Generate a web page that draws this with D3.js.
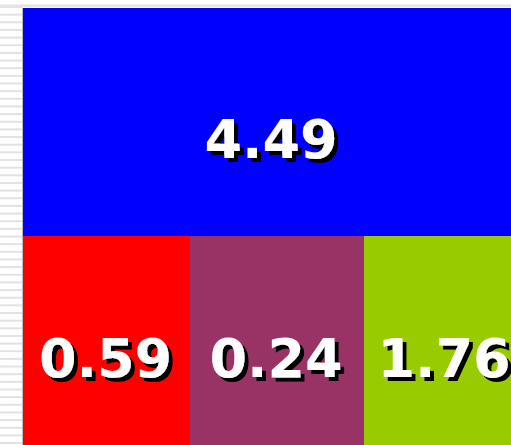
<!DOCTYPE html>
<html>
<head>
<meta charset="utf-8">
<script src="https://cdn.jsdelivr.net/npm/d3@7/dist/d3.min.js"></script>
<style>
html,body{margin:0;padding:0;background:#fff;overflow:hidden;}
svg{display:block;}
</style>
</head>
<body>
<script>
// Data
const groups = ["top", "bottom"];
const names = ["A", "B", "C", "D"];
const labels = ["4.49", "0.59", "0.24", "1.76"];
const groupOf = ["top", "bottom", "bottom", "bottom"];
const sizes = [114.7, 35.0, 36.4, 34.0];   // relative tile areas
const colors = ["#0000ff", "#ff0000", "#993366", "#99cc00"];

const W = 511, H = 445;
const svg = d3.select("body").append("svg").attr("width", W).attr("height", H);

const defs = svg.append("defs");
const f = defs.append("filter").attr("id", "shadow")
  .attr("x", "-10%").attr("y", "-10%").attr("width", "130%").attr("height", "140%");
f.append("feOffset").attr("in", "SourceAlpha").attr("dx", 3.5).attr("dy", 3.5).attr("result", "off");
f.append("feFlood").attr("flood-color", "#000").attr("result", "blk");
f.append("feComposite").attr("in", "blk").attr("in2", "off").attr("operator", "in").attr("result", "sh");
const m = f.append("feMerge");
m.append("feMergeNode").attr("in", "sh");
m.append("feMergeNode").attr("in", "SourceGraphic");

// background stripes on the left & top line
const stripeY = d3.range(6, H, 7.65);
svg.append("g").selectAll("rect").data(stripeY).join("rect")
  .attr("x", 0).attr("y", d => d).attr("width", 23).attr("height", 2)
  .attr("fill", "#e2e2e2");
svg.append("rect").attr("x", 0).attr("y", 4.5).attr("width", W).attr("height", 2.5).attr("fill", "#e4e4e4");
svg.append("rect").attr("x", 22).attr("y", 8).attr("width", 1).attr("height", H).attr("fill", "#bbbbbb");

// hierarchy
const tree = {
  name: "root",
  children: groups.map(g => ({
    name: g,
    children: names.map((n, i) => ({name: n, i})).filter(d => groupOf[d.i] === g)
      .map(d => ({name: d.name, i: d.i, value: sizes[d.i]}))
  }))
};
const root = d3.hierarchy(tree).sum(d => d.value || 0);
const tile = (node, x0, y0, x1, y1) =>
  node.depth === 0 ? d3.treemapSlice(node, x0, y0, x1, y1) : d3.treemapDice(node, x0, y0, x1, y1);

const x0 = 23, y0 = 8, x1 = 526, y1 = 445;
d3.treemap().tile(tile).size([x1 - x0, y1 - y0]).round(true)(root);

const leaves = root.leaves();
const g = svg.append("g").attr("transform", `translate(${x0},${y0})`);
const cell = g.selectAll("g.cell").data(leaves).join("g").attr("class", "cell");
cell.append("rect")
  .attr("x", d => d.x0).attr("y", d => d.y0)
  .attr("width", d => d.x1 - d.x0).attr("height", d => d.y1 - d.y0)
  .attr("shape-rendering", "crispEdges")
  .attr("fill", d => colors[d.data.i]);

const font = "'DejaVu Sans', Verdana, sans-serif";
cell.append("text")
  .attr("x", d => (d.x0 + d.x1) / 2 - (d.depth === 2 && d.parent.data.name === "top" ? 3.5 : 1))
  .attr("y", d => (d.y0 + d.y1) / 2 + 36)
  .attr("text-anchor", "middle")
  .attr("font-family", font)
  .attr("font-weight", "bold")
  .attr("font-size", 54)
  .attr("fill", "#fff")
  .attr("filter", "url(#shadow)")
  .text(d => labels[d.data.i]);
</script>
</body>
</html>
